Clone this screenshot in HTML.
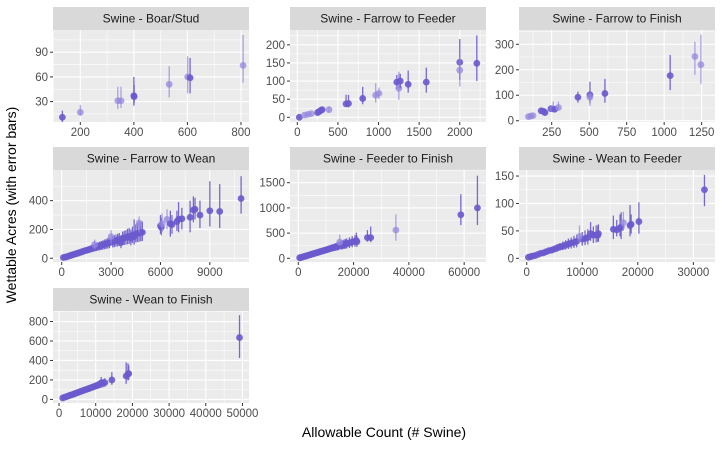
<!DOCTYPE html>
<html><head><meta charset="utf-8"><style>
body{margin:0;background:#fff;}
svg text{font-family:"Liberation Sans",Arial,sans-serif;}
</style></head><body>
<svg id="c" width="722" height="447" viewBox="0 0 722 447" xmlns="http://www.w3.org/2000/svg">
<text x="0" y="0" transform="translate(16,205) rotate(-90)" text-anchor="middle" font-size="14" fill="#000">Wettable Acres (with error bars)</text>
<text x="384" y="437" text-anchor="middle" font-size="14" fill="#000">Allowable Count (# Swine)</text>
</svg>
<script>
// data: [x, y, lo, hi, light]
const boarStud = [[133,11,5,19,0],[200,17,13,26,1],[340,31,21,48,1],[352,31,22,48,1],[400,37,25,60,0],[401,36,28,50,0],[532,51,35,73,1],[601,60,40,85,1],[610,59,40,83,0],[808,74,53,111,1]];
const farrowFeeder = [[25,0,-2,3,0],[90,6,4,8,1],[130,8,6,10,1],[170,10,8,13,1],[250,13,10,16,0],[270,16,12,19,0],[290,19,15,23,0],[305,21,17,26,0],[390,21,15,30,1],[600,37,30,62,0],[630,38,27,62,0],[805,52,36,84,0],[965,61,41,94,1],[1005,66,50,82,1],[1225,97,78,117,0],[1250,80,48,126,1],[1267,100,80,120,0],[1365,91,68,129,0],[1588,97,68,137,0],[2000,152,103,216,0],[2000,130,85,165,1],[2210,149,100,226,0]];
const farrowFinish = [[95,16,12,20,1],[110,18,14,22,1],[125,20,16,24,1],[180,39,33,45,0],[195,37,30,44,0],[205,32,27,42,0],[245,47,35,60,0],[260,46,35,75,1],[270,45,36,56,0],[295,52,40,75,1],[425,92,71,114,0],[505,102,68,153,0],[505,92,58,110,1],[605,107,71,164,0],[1040,177,120,258,0],[1205,252,180,310,1],[1245,220,145,338,1]];
const farrowWean = [[100,5,2,9,0],[200,8,4,12,0],[300,10,5,16,0],[400,14,8,20,0],[500,18,10,26,0],[600,22,13,30,0],[700,25,15,35,0],[800,29,18,40,0],[900,32,20,45,0],[1000,36,22,50,0],[1100,40,25,55,0],[1200,44,28,60,0],[1300,48,30,65,0],[1400,52,33,70,0],[1500,55,35,75,0],[1600,58,37,80,0],[1700,62,40,85,0],[1800,66,42,90,0],[1900,70,45,95,0],[2000,74,47,100,0],[2100,78,50,105,0],[2200,81,52,110,0],[2300,85,55,115,0],[2400,88,57,120,0],[2500,92,60,125,0],[2600,96,62,130,0],[2700,100,65,135,0],[2800,104,67,140,0],[2900,108,70,145,0],[3100,115,75,155,0],[3200,118,77,160,0],[3300,122,80,165,0],[3400,126,82,170,0],[3500,130,85,175,0],[3700,137,90,185,0],[3800,141,92,190,0],[3900,145,95,195,0],[4000,148,97,205,0],[4100,152,100,210,0],[4300,160,105,220,0],[4500,168,110,235,0],[4600,172,112,245,0],[4700,175,115,250,0],[4800,178,118,252,0],[4900,180,120,255,0],[4200,140,90,200,0],[3000,150,100,195,1],[4700,245,180,290,1],[4400,150,95,270,0],[2000,95,60,130,1],[3600,110,70,160,0],[6000,225,170,300,0],[6050,215,160,280,0],[6100,240,180,310,1],[6400,270,200,340,1],[6600,240,150,330,0],[6700,235,170,300,0],[7000,255,190,330,0],[7100,270,180,390,0],[7300,275,200,350,0],[7800,285,180,400,0],[8000,335,250,430,0],[8100,340,270,420,0],[8400,300,210,400,0],[9000,330,220,535,0],[9600,325,210,515,0],[10900,415,310,570,0]];
const feederFinish = [[500,10,5,15,0],[1000,18,10,26,0],[1500,25,15,35,0],[2000,34,22,46,0],[2500,42,28,56,0],[3000,50,34,66,0],[3500,58,40,78,0],[4000,66,45,88,0],[4500,75,50,100,0],[5000,84,56,112,0],[5500,92,62,122,0],[6000,100,67,134,0],[6500,108,72,145,0],[7000,117,78,156,0],[7500,125,85,168,0],[8000,134,90,180,0],[8500,142,95,190,0],[9000,150,100,202,0],[9500,158,105,212,0],[10000,166,112,224,0],[10500,175,118,235,0],[11000,184,123,246,0],[11500,192,128,258,0],[12000,200,134,270,0],[12500,208,140,280,0],[13000,216,145,290,0],[13500,225,150,302,0],[14000,232,155,312,0],[14500,240,160,325,0],[15500,258,172,350,0],[16000,266,178,360,0],[16500,275,185,372,0],[17000,282,190,385,0],[17500,290,195,395,0],[18500,305,205,415,0],[19500,325,220,440,0],[20500,340,230,460,0],[21200,330,225,450,0],[15000,320,260,470,1],[21000,350,270,510,0],[25000,410,330,560,0],[26200,410,320,630,0],[35300,560,350,870,1],[58800,865,660,1270,0],[64800,1000,660,1640,0]];
const weanFeeder = [[300,2,1,3,0],[700,3,2,5,0],[1000,4,2,6,0],[1500,5,3,8,0],[2000,7,4,10,0],[2500,9,5,12,0],[3000,10,6,14,0],[3500,12,8,17,0],[4000,14,9,19,0],[4500,15,10,21,0],[5000,17,11,23,0],[5500,19,12,26,0],[6000,21,14,28,0],[6500,22,15,31,0],[7000,24,16,33,0],[7500,26,17,36,0],[8000,28,18,38,0],[8500,29,19,41,0],[9000,31,20,43,0],[10000,35,23,48,0],[10500,36,24,51,0],[11000,38,25,53,0],[12000,42,28,58,0],[12500,43,29,60,0],[12900,45,30,62,0],[12800,42,30,60,0],[9500,40,30,60,1],[11500,45,32,66,0],[15600,53,35,78,0],[16200,52,40,70,0],[16800,55,40,80,0],[17000,57,35,84,0],[17400,65,50,85,1],[18600,60,40,97,0],[18800,62,45,80,0],[20200,67,45,102,0],[32000,125,95,152,0]];
const weanFinish = [[1000,15,11,19,0],[1500,22,16,28,0],[2000,28,21,35,0],[2500,35,26,44,0],[3000,42,32,52,0],[3500,48,36,60,0],[4000,55,42,68,0],[4500,62,47,77,0],[5000,69,52,86,0],[5500,76,57,95,0],[6000,83,62,104,0],[6500,90,67,112,0],[7000,97,73,121,0],[7500,103,77,130,0],[8000,110,82,140,0],[8500,117,88,148,0],[9000,124,93,158,0],[9500,131,98,166,0],[10000,138,103,175,0],[10500,145,108,185,0],[11000,152,114,195,0],[12000,166,124,210,0],[12500,172,130,218,0],[11500,170,120,230,0],[14400,200,150,280,0],[18300,240,160,380,0],[18800,260,195,370,0],[19000,265,200,350,0],[49200,635,425,865,0]];

const yTicksBoar=[30,60,90], yTicksFF=[0,50,100,150,200], yTicksFFin=[0,100,200,300], yTicksFW=[0,200,400], yTicksFeF=[0,500,1000,1500], yTicksWF=[0,50,100,150], yTicksWFin=[0,200,400,600,800];
const xTicksBoar=[200,400,600,800], xTicksFF=[0,500,1000,1500,2000], xTicksFFin=[250,500,750,1000,1250], xTicksFW=[0,3000,6000,9000], xTicksFeF=[0,20000,40000,60000], xTicksWF=[0,10000,20000,30000], xTicksWFin=[0,10000,20000,30000,40000,50000];

const panels=[
 {t:"Swine - Boar/Stud",d:boarStud,x0:53,y0:30,xd:[98,830],yd:[5.2,117],xt:xTicksBoar,yt:yTicksBoar,n:"boar-stud"},
 {t:"Swine - Farrow to Feeder",d:farrowFeeder,x0:290,y0:30,xd:[-90,2323],yd:[-13,241],xt:xTicksFF,yt:yTicksFF,n:"farrow-to-feeder"},
 {t:"Swine - Farrow to Finish",d:farrowFinish,x0:519,y0:30,xd:[32,1339],yd:[-5,356],xt:xTicksFFin,yt:yTicksFFin,n:"farrow-to-finish"},
 {t:"Swine - Farrow to Wean",d:farrowWean,x0:53,y0:170,xd:[-530,11380],yd:[-26,613],xt:xTicksFW,yt:yTicksFW,n:"farrow-to-wean"},
 {t:"Swine - Feeder to Finish",d:feederFinish,x0:290,y0:170,xd:[-3000,67900],yd:[-73,1752],xt:xTicksFeF,yt:yTicksFeF,n:"feeder-to-finish"},
 {t:"Swine - Wean to Feeder",d:weanFeeder,x0:519,y0:170,xd:[-1390,33900],yd:[-6.7,161],xt:xTicksWF,yt:yTicksWF,n:"wean-to-feeder"},
 {t:"Swine - Wean to Finish",d:weanFinish,x0:53,y0:311,xd:[-1640,51780],yd:[-37,908],xt:xTicksWFin,yt:yTicksWFin,n:"wean-to-finish"}
];
const NS="http://www.w3.org/2000/svg", svg=document.getElementById('c');
function mk(tag,a,parent){const e=document.createElementNS(NS,tag);for(const k in a)e.setAttribute(k,a[k]);(parent||svg).appendChild(e);return e;}
const W=196,H=92,SH=23;
panels.forEach(p=>{
 const g=mk('g',{});
 
 
 const sx=v=>p.x0+(v-p.xd[0])/(p.xd[1]-p.xd[0])*W;
 const sy=v=>p.y0+H-(v-p.yd[0])/(p.yd[1]-p.yd[0])*H;
 const strip=mk('rect',{x:p.x0,y:p.y0-SH,width:W,height:SH,fill:'#d9d9d9'},g);
 
 
 const st=mk('text',{x:p.x0+W/2,y:p.y0-7.5,'text-anchor':'middle','font-size':12,fill:'#1a1a1a'},g);
 st.textContent=p.t;
 
 
 const bg=mk('rect',{x:p.x0,y:p.y0,width:W,height:H,fill:'#ebebeb'},g);
 
 
 const cl=mk('clipPath',{id:'cl'+p.n},g);mk('rect',{x:p.x0,y:p.y0,width:W,height:H},cl);
 const xs=p.xt[1]-p.xt[0], ys=p.yt[1]-p.yt[0];
 for(let v=p.xt[0]-xs/2;v<=p.xd[1];v+=xs){ if(v>=p.xd[0]) mk('line',{x1:sx(v),x2:sx(v),y1:p.y0,y2:p.y0+H,stroke:'#fff','stroke-width':0.55},g);}
 for(let v=p.yt[0]-ys/2;v<=p.yd[1];v+=ys){ if(v>=p.yd[0]) mk('line',{x1:p.x0,x2:p.x0+W,y1:sy(v),y2:sy(v),stroke:'#fff','stroke-width':0.55},g);}
 p.xt.forEach(v=>{const X=sx(v);
  mk('line',{x1:X,x2:X,y1:p.y0,y2:p.y0+H,stroke:'#fff','stroke-width':1.1},g);
  mk('line',{x1:X,x2:X,y1:p.y0+H,y2:p.y0+H+3,stroke:'#333','stroke-width':1},g);
  const t=mk('text',{x:X,y:p.y0+H+14,'text-anchor':'middle','font-size':11.5,fill:'#4d4d4d'},g);t.textContent=v;
  
  });
 p.yt.forEach(v=>{const Y=sy(v);
  mk('line',{x1:p.x0,x2:p.x0+W,y1:Y,y2:Y,stroke:'#fff','stroke-width':1.1},g);
  mk('line',{x1:p.x0-3,x2:p.x0,y1:Y,y2:Y,stroke:'#333','stroke-width':1},g);
  const t=mk('text',{x:p.x0-5,y:Y+4,'text-anchor':'end','font-size':11.5,fill:'#4d4d4d'},g);t.textContent=v;
  
  });
 const mg=mk('g',{'clip-path':'url(#cl'+p.n+')'},g);
 p.d.forEach(r=>{
  const col=r[4]?'#9488dd':'#6a5acd', op=r[4]?0.75:0.9;
  const eb=mk('line',{x1:sx(r[0]),x2:sx(r[0]),y1:sy(r[2]),y2:sy(r[3]),stroke:col,'stroke-width':1.3,opacity:op},mg);
  
  
  const c=mk('circle',{cx:sx(r[0]),cy:sy(r[1]),r:3.4,fill:col,opacity:op},mg);
  
  
 });
});
</script>
</body></html>
